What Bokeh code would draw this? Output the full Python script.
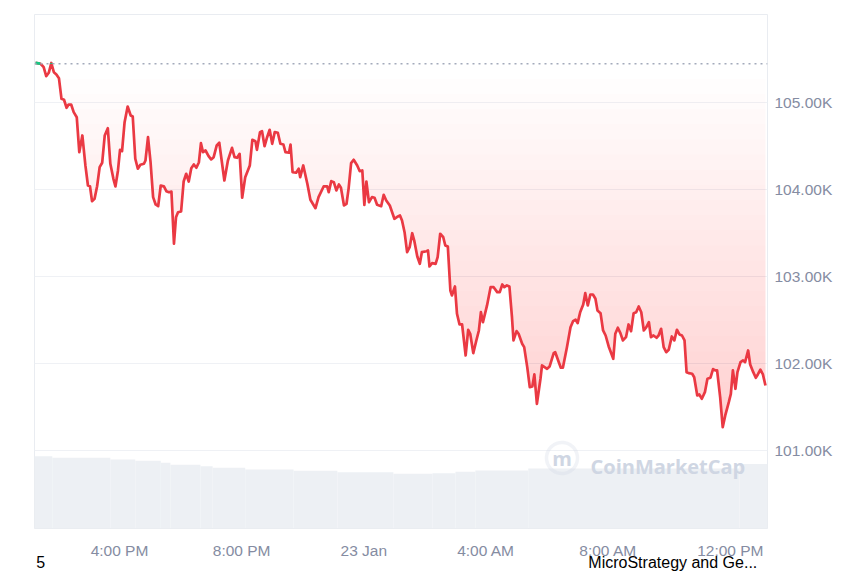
import numpy as np
import pandas as pd
from bokeh.plotting import figure
from bokeh.models import Range1d, FixedTicker, Label, PolyAnnotation, Span, DatetimeAxis
from bokeh.embed import file_html
from bokeh.resources import INLINE

# ---------------- data ----------------
base_time = "2025-01-22 16:00"          # minutes below are offsets from this time
window_start_min = -167
window_end_min = 1273
open_price = 105450                      # reference (dotted) line

minutes = [
    -165, -155, -149, -144, -139, -134, -129, -124, -119, -114,
    -109, -104, -100, -95, -90, -84, -79, -73, -67, -62,
    -58, -54, -49, -44, -39, -34, -29, -23, -18, -12,
    -8, -3, 1, 5, 10, 16, 22, 26, 31, 36,
    41, 48, 51, 56, 61, 66, 71, 76, 81, 87,
    92, 97, 102, 107, 111, 115, 121, 126, 131, 136,
    141, 146, 151, 156, 160, 164, 169, 175, 180, 185,
    191, 196, 206, 213, 221, 226, 231, 236, 241, 247,
    256, 261, 267, 270, 276, 280, 285, 290, 295, 300,
    305, 311, 316, 322, 326, 333, 336, 340, 347, 352,
    355, 361, 369, 375, 385, 391, 401, 408, 411, 416,
    421, 426, 431, 435, 441, 446, 450, 455, 460, 467,
    472, 477, 481, 485, 490, 496, 501, 506, 514, 519,
    524, 531, 540, 547, 551, 555, 560, 565, 570, 575,
    579, 585, 590, 594, 603, 606, 609, 614, 621, 625,
    630, 636, 640, 645, 650, 653, 659, 663, 668, 673,
    680, 685, 689, 695, 701, 706, 710, 714, 722, 729,
    735, 742, 747, 752, 756, 761, 766, 771, 774, 780,
    784, 791, 795, 801, 806, 811, 815, 820, 827, 830,
    835, 840, 845, 853, 856, 863, 867, 871, 879, 886,
    891, 896, 900, 905, 911, 915, 920, 925, 930, 935,
    939, 945, 950, 955, 961, 970, 974, 979, 984, 989,
    995, 1000, 1005, 1010, 1015, 1020, 1025, 1030, 1035, 1040,
    1044, 1049, 1055, 1059, 1064, 1069, 1074, 1079, 1085, 1090,
    1095, 1100, 1105, 1110, 1114, 1118, 1125, 1129, 1135, 1139,
    1144, 1150, 1155, 1161, 1166, 1171, 1174, 1180, 1185, 1190,
    1197, 1201, 1205, 1210, 1214, 1220, 1225, 1229, 1235, 1239,
    1245, 1250, 1254, 1259, 1264, 1269,
]

prices = [
    105460, 105449, 105410, 105306, 105345, 105458, 105352, 105326, 105283, 105046,
    105035, 104942, 104980, 104980, 104892, 104834, 104432, 104624, 104279, 104048,
    104040, 103868, 103895, 104040, 104259, 104310, 104624, 104708, 104298, 104125,
    104037, 104221, 104459, 104443, 104777, 104957, 104854, 104842, 104356, 104241,
    104287, 104298, 104336, 104604, 104316, 103914, 103830, 103810, 104048, 104040,
    103983, 103971, 103979, 103378, 103684, 103741, 103749, 104094, 104183, 104094,
    104247, 104290, 104252, 104316, 104535, 104432, 104451, 104386, 104348, 104374,
    104509, 104540, 104106, 104336, 104482, 104374, 104367, 104413, 103907, 104144,
    104279, 104574, 104558, 104459, 104662, 104673, 104501, 104604, 104689, 104528,
    104662, 104655, 104528, 104520, 104432, 104425, 104520, 104201, 104195, 104241,
    104144, 104279, 104068, 103884, 103787, 103914, 104037, 104037, 103971, 104098,
    104086, 103991, 104060, 104022, 103818, 103838, 104010, 104305, 104344, 104279,
    104213, 104221, 103826, 104094, 103856, 103914, 103907, 103826, 103810, 103941,
    103876, 103818, 103665, 103692, 103703, 103646, 103511, 103281, 103338, 103499,
    103415, 103231, 103147, 103281, 103292, 103300, 103116, 103154, 103147, 103223,
    103493, 103453, 103358, 103346, 102840, 102783, 102886, 102572, 102449, 102449,
    102092, 102388, 102342, 102119, 102265, 102380, 102590, 102475, 102668, 102878,
    102878, 102821, 102821, 102909, 102878, 102898, 102886, 102533, 102265, 102372,
    102342, 102227, 102188, 101958, 101727, 101735, 101874, 101536, 101824, 101977,
    101958, 101939, 101966, 102119, 102130, 102015, 101951, 101951, 102188, 102418,
    102487, 102503, 102464, 102590, 102679, 102809, 102668, 102794, 102794, 102745,
    102610, 102579, 102380, 102322, 102196, 102054, 102342, 102411, 102349, 102265,
    102303, 102449, 102372, 102579, 102590, 102656, 102590, 102380, 102418, 102475,
    102303, 102322, 102296, 102322, 102399, 102188, 102130, 102158, 102311, 102265,
    102388, 102334, 102322, 102265, 101900, 101889, 101882, 101842, 101632, 101643,
    101594, 101670, 101824, 101836, 101935, 101920, 101920, 101612, 101267, 101402,
    101555, 101651, 101920, 101709, 101900, 102015, 102035, 102015, 102150, 101989,
    101900, 101836, 101874, 101928, 101874, 101747,
]

# 24h volume (billions USD), block start offsets in minutes
vol_start_min = [-167, -132, -18, 31, 81, 100, 159, 183, 247, 342, 428, 538, 615, 660, 699, 803, 1218]
vol_values = [70.3, 68.8, 67.1, 65.9, 63.9, 62.0, 60.6, 59.0, 57.4, 56.1, 54.8, 53.2, 53.8, 55.2, 56.4, 58.4, 62.7]

# news/event markers shown under the time axis (minutes offset, label)
event_min = [-155, 1087]
event_labels = ["5", "MicroStrategy and Ge..."]

x_tick_hours = [0, 4, 8, 12, 16, 20]
x_tick_labels = ["4:00 PM", "8:00 PM", "23 Jan", "4:00 AM", "8:00 AM", "12:00 PM"]
y_tick_values = [101000, 102000, 103000, 104000, 105000]
y_tick_labels = ["101.00K", "102.00K", "103.00K", "104.00K", "105.00K"]

# ---------------- styling ----------------
RED = "#ea3943"
GREEN = "#16c784"
LABEL = "#858ca2"
GRID = "#eff1f5"
FONT = "Liberation Sans"

base_ms = pd.Timestamp(base_time).value // 10**6
MIN_MS = 60000
to_ms = lambda m: base_ms + np.asarray(m, dtype=float) * MIN_MS

xs = to_ms(minutes)
ys = np.asarray(prices, dtype=float)

p = figure(width=852, height=573, x_axis_type="datetime", y_axis_location="right",
           x_range=Range1d(float(to_ms(window_start_min)), float(to_ms(window_end_min))),
           y_range=Range1d(100101, 106016),
           output_backend="svg", toolbar_location=None,
           min_border_left=34, min_border_right=85, min_border_top=14, min_border_bottom=45)
p.background_fill_color = "white"
p.border_fill_color = "white"
p.outline_line_color = "#e9ecf1"
p.extra_y_ranges = {"vol": Range1d(0, 500)}

# volume blocks
v_left = to_ms(vol_start_min)
v_right = to_ms(vol_start_min[1:] + [window_end_min])
p.quad(left=v_left, right=v_right, bottom=0, top=vol_values, y_range_name="vol",
       fill_color="#edf0f4", line_color=None)

# gradient fill between price line and reference line: stacked thin layers
tm = np.arange(minutes[0], minutes[-1] + 1, 1.0)
pm = np.interp(tm, minutes, prices)
xm = to_ms(tm)
pmin = pm.min()
n_layers = 24
levels = np.linspace(open_price, pmin, n_layers + 1)[1:]
for L in levels:
    y1 = np.minimum(pm, L)
    p.varea(x=xm, y1=y1, y2=np.full_like(pm, float(L)),
            fill_color=RED, fill_alpha=0.01)

# reference dotted line
p.add_layout(Span(location=open_price, dimension="width", line_color="#a3aabb",
                  line_dash="2 4", line_width=1.5))

# price line
p.line(xs, ys, line_color=RED, line_width=2.7, line_join="round")

# green portions above reference line
gxs, gys = [], []
for i in range(len(prices) - 1):
    a, b = prices[i], prices[i + 1]
    ta, tb = minutes[i], minutes[i + 1]
    if a >= open_price and b >= open_price:
        gxs.append(list(to_ms([ta, tb]))); gys.append([a, b])
    elif a >= open_price or b >= open_price:
        tc = ta + (open_price - a) * (tb - ta) / (b - a)
        if a >= open_price:
            gxs.append(list(to_ms([ta, tc]))); gys.append([a, open_price])
        else:
            gxs.append(list(to_ms([tc, tb]))); gys.append([open_price, b])
if gxs:
    p.multi_line(gxs, gys, line_color=GREEN, line_width=2.7)

# axes
xt = [int(base_ms + h * 3600000) for h in x_tick_hours]
p.xaxis.ticker = FixedTicker(ticks=xt)
p.xaxis.major_label_overrides = {t: l for t, l in zip(xt, x_tick_labels)}
p.yaxis.ticker = FixedTicker(ticks=y_tick_values)
p.yaxis.major_label_overrides = {v: l for v, l in zip(y_tick_values, y_tick_labels)}
for ax in (p.xaxis, p.yaxis):
    ax.axis_line_color = None
    ax.major_tick_line_color = None
    ax.minor_tick_line_color = None
    ax.major_tick_out = 0
    ax.major_tick_in = 0
    ax.minor_tick_out = 0
    ax.major_label_text_font = FONT
    ax.major_label_text_font_size = "15.5px"
    ax.major_label_text_color = LABEL
p.xaxis.major_label_standoff = 13
p.yaxis.major_label_standoff = 7

# event labels row under the time axis
et = [int(v) for v in to_ms(event_min)]
ev_axis = DatetimeAxis(ticker=FixedTicker(ticks=et),
                       major_label_overrides={t: l for t, l in zip(et, event_labels)},
                       axis_line_color=None, major_tick_line_color=None, minor_tick_line_color=None,
                       major_tick_out=0, major_tick_in=0, minor_tick_out=0,
                       major_label_standoff=-8, major_label_text_font=FONT,
                       major_label_text_font_size="16px", major_label_text_color="#000000")
p.add_layout(ev_axis, "below")

p.xgrid.grid_line_color = None
p.ygrid.ticker = FixedTicker(ticks=y_tick_values)
p.ygrid.grid_line_color = GRID
p.ygrid.grid_line_width = 1

# watermark
WM = "#cfd6e3"
theta = np.linspace(0, 2 * np.pi, 60)
p.add_layout(PolyAnnotation(xs=list(527.5 + 15.5 * np.cos(theta)), ys=list(70.5 + 15.5 * np.sin(theta)),
                            xs_units="screen", ys_units="screen",
                            fill_color=None, line_color=WM, line_width=3.5))
p.add_layout(Label(x=527.5, y=70.5, x_units="screen", y_units="screen", text="m",
                   text_font="Open Sans", text_font_style="bold", text_font_size="20px",
                   text_color=WM, text_align="center", text_baseline="middle"))
p.add_layout(Label(x=556, y=62, x_units="screen", y_units="screen", text="CoinMarketCap",
                   text_font="Open Sans", text_font_style="bold", text_font_size="20px",
                   text_color=WM, text_align="left", text_baseline="alphabetic"))

open("out.html", "w").write(file_html(p, INLINE))
